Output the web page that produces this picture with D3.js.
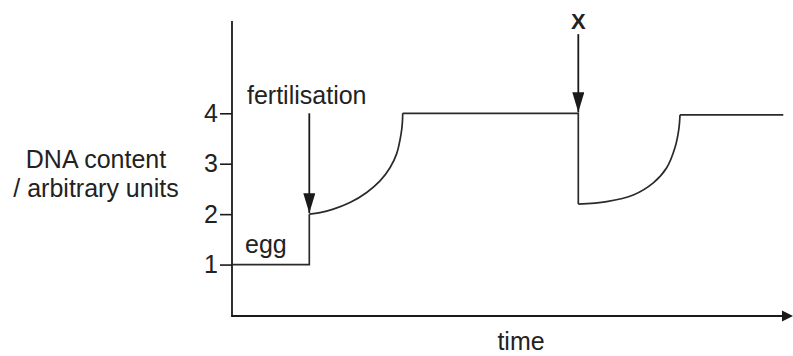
<!DOCTYPE html>
<html>
<head>
<meta charset="utf-8">
<script src="https://cdn.jsdelivr.net/npm/d3@7/dist/d3.min.js"></script>
<style>
  html, body { margin: 0; padding: 0; background: #fff; }
  svg { display: block; }
  text { font-family: "Liberation Sans", Arial, Helvetica, sans-serif; fill: #222; }
</style>
</head>
<body>
<svg id="chart" width="793" height="356"></svg>
<script>
// DNA content (arbitrary units) over time, in arbitrary time units.
const yTicks = [1, 2, 3, 4];

// Egg stage, then step up at fertilisation.
const eggSegment = [[0, 1], [7.73, 1], [7.73, 2]];
// Replication after fertilisation.
const firstRise = [
  [7.73, 2.0], [8.8, 2.03], [10.13, 2.1], [11.8, 2.23], [13.47, 2.43],
  [14.8, 2.66], [15.8, 2.92], [16.47, 3.2], [16.9, 3.58], [17.04, 3.82], [17.07, 4.0]
];
// Plateau, then drop at X.
const plateau = [[17.07, 4.0], [34.63, 4.0], [34.63, 2.2]];
// Second replication.
const secondRise = [
  [34.63, 2.2], [37.47, 2.25], [40.13, 2.38], [42.13, 2.62], [43.47, 2.92],
  [44.3, 3.32], [44.68, 3.68], [44.8, 3.97]
];
const finalPlateau = [[44.8, 3.97], [55.13, 3.97]];

// Annotation events: time, DNA at arrow start, DNA at arrow tip, label
const events = [
  { t: 7.73, from: 4.0, to: 2.0, label: "fertilisation" },
  { t: 34.63, from: 5.57, to: 4.0, label: "X" }
];

const svg = d3.select("#chart");
const x = d3.scaleLinear().domain([0, 56]).range([232, 792]);
const y = d3.scaleLinear().domain([0, 5.85]).range([315, 20]);

const ink = "#1a1a1a";

// Arrowhead marker, pointing along the line direction
const defs = svg.append("defs");
defs.append("marker")
  .attr("id", "head")
  .attr("viewBox", "0 0 20 12")
  .attr("refX", 20).attr("refY", 6)
  .attr("markerWidth", 20).attr("markerHeight", 12)
  .attr("markerUnits", "userSpaceOnUse")
  .attr("orient", "auto")
  .append("path")
  .attr("d", "M0,0 L20,6 L0,12 Z")
  .attr("fill", ink);

// Y axis (ticks + labels)
const yAxis = d3.axisLeft(y).tickValues(yTicks).tickSize(12).tickPadding(2).tickFormat(d3.format("d"));
const gy = svg.append("g").attr("transform", `translate(${x(0)},0)`).call(yAxis);
gy.select(".domain").remove();
gy.selectAll(".tick line").attr("stroke", ink).attr("stroke-width", 1.6);
gy.selectAll(".tick text")
  .attr("font-size", 25)
  .attr("font-family", "\"Liberation Sans\", Arial, sans-serif")
  .attr("fill", "#222");

// Axis lines
svg.append("line")
  .attr("x1", x(0)).attr("x2", x(0))
  .attr("y1", y(0) + 1).attr("y2", 21)
  .attr("stroke", ink).attr("stroke-width", 1.8);

svg.append("line")
  .attr("x1", x(0) - 0.9).attr("x2", 784)
  .attr("y1", y(0) + 1).attr("y2", y(0) + 1)
  .attr("stroke", ink).attr("stroke-width", 1.8);
svg.append("path")
  .attr("d", `M782,${y(0) + 1 - 5.5} L793,${y(0) + 1} L782,${y(0) + 1 + 5.5} Z`)
  .attr("fill", ink);

// Trace
const straight = d3.line().x(d => x(d[0])).y(d => y(d[1])).curve(d3.curveLinear);
const smooth = d3.line().x(d => x(d[0])).y(d => y(d[1])).curve(d3.curveCatmullRom.alpha(0.5));
const traceStyle = sel => sel.attr("fill", "none").attr("stroke", "#2a2a2a")
  .attr("stroke-width", 1.7).attr("stroke-linejoin", "miter");

svg.append("path").datum(eggSegment).attr("d", straight).call(traceStyle);
svg.append("path").datum(firstRise).attr("d", smooth).call(traceStyle);
svg.append("path").datum(plateau).attr("d", straight).call(traceStyle);
svg.append("path").datum(secondRise).attr("d", smooth).call(traceStyle);
svg.append("path").datum(finalPlateau).attr("d", straight).call(traceStyle);

// Event arrows
svg.selectAll("line.event")
  .data(events)
  .join("line")
  .attr("class", "event")
  .attr("x1", d => x(d.t)).attr("x2", d => x(d.t))
  .attr("y1", d => y(d.from)).attr("y2", d => y(d.to) - 1)
  .attr("stroke", ink).attr("stroke-width", 1.8)
  .attr("marker-end", "url(#head)");

// Labels
svg.append("text")
  .attr("x", 247).attr("y", 104)
  .attr("font-size", 25)
  .text(events[0].label);

svg.append("text")
  .attr("x", x(events[1].t)).attr("y", 29)
  .attr("text-anchor", "middle")
  .attr("font-size", 22).attr("font-weight", "bold")
  .text(events[1].label);

svg.append("text")
  .attr("x", 245).attr("y", 253)
  .attr("font-size", 25)
  .text("egg");

svg.append("text")
  .attr("x", 521).attr("y", 350)
  .attr("text-anchor", "middle")
  .attr("font-size", 25)
  .text("time");

const yLabel = svg.append("text")
  .attr("text-anchor", "middle")
  .attr("font-size", 25);
yLabel.append("tspan").attr("x", 96).attr("y", 168).text("DNA content");
yLabel.append("tspan").attr("x", 96).attr("y", 197).text("/ arbitrary units");
</script>
</body>
</html>
